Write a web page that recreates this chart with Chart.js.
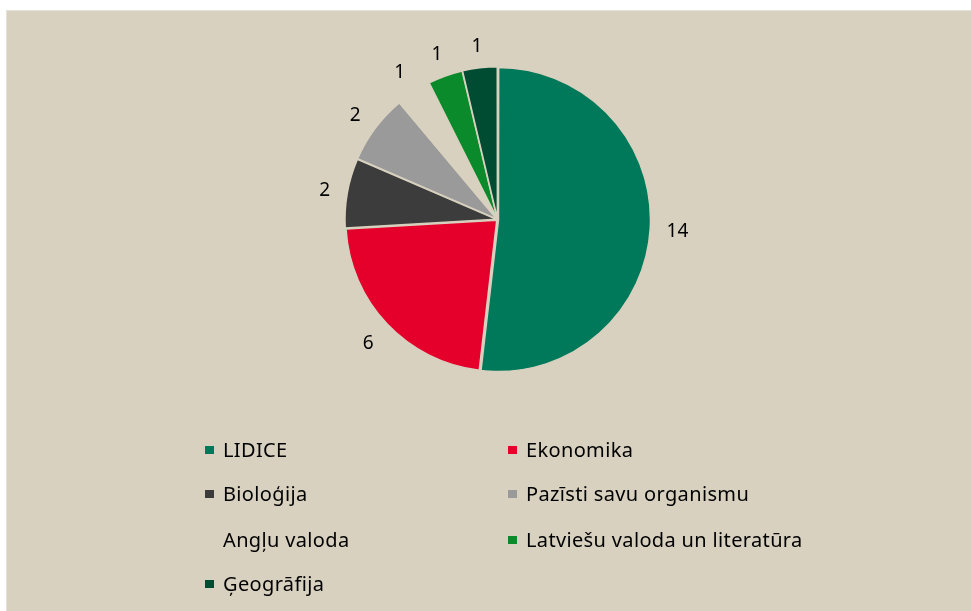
<!DOCTYPE html>
<html lang="lv">
<head>
<meta charset="utf-8">
<title>Projekti pa mācību priekšmetiem</title>
<script src="https://cdn.jsdelivr.net/npm/chart.js@4/dist/chart.umd.min.js"></script>
<style>
  html, body { margin: 0; padding: 0; background: #ffffff; width: 971px; height: 611px; overflow: hidden; }
  #panel {
    position: absolute; left: 6px; top: 10px; width: 965px; height: 601px;
    background: #d8d1bf; border-top: 1px solid #e4e1da; border-left: 1px solid #e4e1da;
    box-sizing: border-box;
  }
  #pieBox { position: absolute; left: 0; top: 0; width: 965px; height: 416px; }
  #legend { position: absolute; left: 0; top: 0; width: 965px; height: 601px; font-family: "Noto Sans", Lato, sans-serif; font-size: 20px; letter-spacing: 0.35px; color: #000; }
  .item { position: absolute; display: flex; align-items: center; white-space: nowrap; line-height: 24px; }
  .sw { width: 9px; height: 8px; margin-right: 9px; flex: none; }
</style>
</head>
<body>
<div id="panel">
  <div id="pieBox"><canvas id="pie"></canvas></div>
  <div id="legend"></div>
</div>
<script>
// Number of projects per school subject
const subjects = ["LIDICE", "Ekonomika", "Bioloģija", "Pazīsti savu organismu", "Angļu valoda", "Latviešu valoda un literatūra", "Ģeogrāfija"];
const projectCounts = [14, 6, 2, 2, 1, 1, 1];
const sliceColors = ["#00785a", "#e4002b", "#3c3c3c", "#9a9a9a", "rgba(0,0,0,0)", "#0a8a2a", "#004c33"];

// Values written just outside each slice
const outsideLabels = {
  id: "outsideLabels",
  afterDatasetsDraw(chart) {
    const ctx = chart.ctx;
    const meta = chart.getDatasetMeta(0);
    ctx.save();
    ctx.font = "19px 'Noto Sans', Lato, sans-serif";
    ctx.fillStyle = "#000";
    ctx.textAlign = "center";
    ctx.textBaseline = "middle";
    meta.data.forEach((arc, i) => {
      const p = arc.getProps(["x", "y", "startAngle", "endAngle", "outerRadius"], true);
      const mid = (p.startAngle + p.endAngle) / 2;
      const w = ctx.measureText(String(projectCounts[i])).width / 2;
      const h = 7;
      const dist = p.outerRadius + 18 + Math.abs(Math.cos(mid)) * w + Math.abs(Math.sin(mid)) * h;
      ctx.fillText(String(projectCounts[i]), p.x + Math.cos(mid) * dist, p.y + Math.sin(mid) * dist + 2);
    });
    ctx.restore();
  }
};

new Chart(document.getElementById("pie"), {
  type: "pie",
  data: {
    labels: subjects,
    datasets: [{
      data: projectCounts,
      backgroundColor: sliceColors,
      borderColor: "#d8d1bf",
      borderWidth: 1.5,
      offset: 4,
      hoverOffset: 0
    }]
  },
  options: {
    responsive: true,
    maintainAspectRatio: false,
    animation: false,
    radius: 151,
    layout: { padding: { left: 16, right: 0, top: 1, bottom: 0 } },
    plugins: { legend: { display: false }, tooltip: { enabled: false } }
  },
  plugins: [outsideLabels]
});

// Two-column legend below the pie
const legendEl = document.getElementById("legend");
const colX = [198, 501];
const rowY = [427, 471, 517, 561];
subjects.forEach((name, i) => {
  const item = document.createElement("div");
  item.className = "item";
  item.style.left = colX[i % 2] + "px";
  item.style.top = rowY[Math.floor(i / 2)] + "px";
  const sw = document.createElement("span");
  sw.className = "sw";
  sw.style.background = sliceColors[i];
  const tx = document.createElement("span");
  tx.textContent = name;
  item.appendChild(sw);
  item.appendChild(tx);
  legendEl.appendChild(item);
});
</script>
</body>
</html>
